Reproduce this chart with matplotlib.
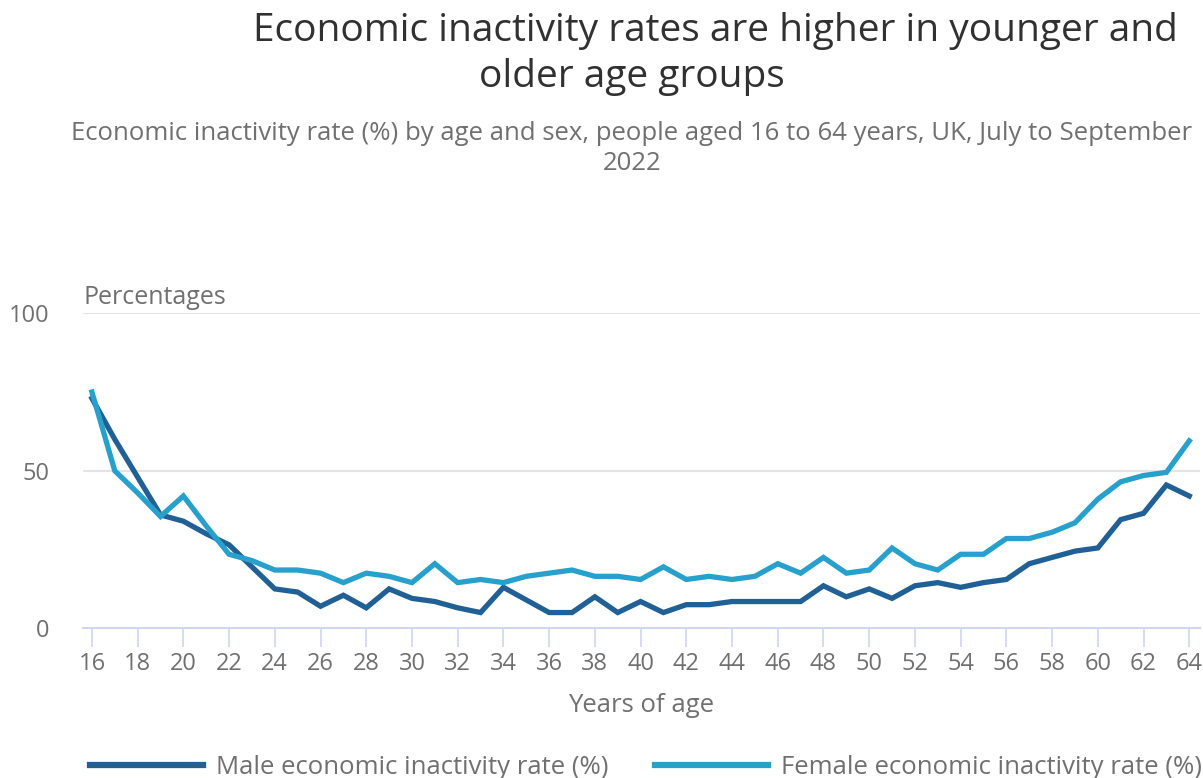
import matplotlib
matplotlib.use("Agg")
import matplotlib.pyplot as plt

plt.rcParams['font.family'] = ['Open Sans', 'DejaVu Sans']

# economic inactivity rate (%) by single year of age, July to September 2022
ages = list(range(16, 65))
male = [73, 60, 48, 36, 34, 30, 26.5, 19.5, 12.5, 11.5,
        7, 10.5, 6.5, 12.5, 9.5, 8.5, 6.5, 5, 13, 9,
        5, 5, 10, 5, 8.5, 5, 7.5, 7.5, 8.5, 8.5,
        8.5, 8.5, 13.5, 10, 12.5, 9.5, 13.5, 14.5, 13, 14.5,
        15.5, 20.5, 22.5, 24.5, 25.5, 34.5, 36.5, 45.5, 42]
female = [75, 50, 43, 35.5, 42, 32.5, 23.5, 21.5, 18.5, 18.5,
          17.5, 14.5, 17.5, 16.5, 14.5, 20.5, 14.5, 15.5, 14.5, 16.5,
          17.5, 18.5, 16.5, 16.5, 15.5, 19.5, 15.5, 16.5, 15.5, 16.5,
          20.5, 17.5, 22.5, 17.5, 18.5, 25.5, 20.5, 18.5, 23.5, 23.5,
          28.5, 28.5, 30.5, 33.5, 41, 46.5, 48.5, 49.5, 59.5]

x_ticks = list(range(16, 65, 2))
y_ticks = [0, 50, 100]

male_colour = '#206095'
female_colour = '#27a0cc'
text_grey = '#707070'

W, H = 1203, 778
fig = plt.figure(figsize=(W / 100, H / 100), dpi=100)
ax = fig.add_axes([83 / W, 1 - 628.3 / H, 1117 / W, 315 / H])

l1, = ax.plot(ages, male, color=male_colour, lw=3.8, solid_joinstyle='miter',
              label='Male economic inactivity rate (%)', clip_on=False, zorder=3)
l2, = ax.plot(ages, female, color=female_colour, lw=3.8, solid_joinstyle='miter',
              label='Female economic inactivity rate (%)', clip_on=False, zorder=4)

ax.set_xlim(15.61, 64.47)
ax.set_ylim(0, 100)
ax.set_xticks(x_ticks)
ax.set_yticks(y_ticks)
ax.tick_params(axis='x', length=14, width=1.2, color='#cfd7ee', pad=3,
               labelsize=17, labelcolor=text_grey)
ax.tick_params(axis='y', length=0, pad=24, labelsize=17, labelcolor=text_grey)

for s in ['top', 'right', 'left']:
    ax.spines[s].set_visible(False)
ax.spines['bottom'].set_color('#cfd7ee')
ax.spines['bottom'].set_linewidth(1.5)

for v in y_ticks[1:]:
    ax.axhline(v, color='#e4e4e4', lw=1.5, zorder=1)

ax.set_xlabel('Years of age', fontsize=18.5, color=text_grey, labelpad=12)
ax.text(0, 1.05, 'Percentages', transform=ax.transAxes, fontsize=18,
        color=text_grey, ha='left', va='center')

fig.text(715 / W, 1 - 31 / H, 'Economic inactivity rates are higher in younger and',
         ha='center', va='center', fontsize=28, color='#323132')
fig.text(632 / W, 1 - 77 / H, 'older age groups',
         ha='center', va='center', fontsize=28, color='#323132')
fig.text(632 / W, 1 - 133 / H,
         'Economic inactivity rate (%) by age and sex, people aged 16 to 64 years, UK, July to September',
         ha='center', va='center', fontsize=18.5, color=text_grey)
fig.text(632 / W, 1 - 163 / H, '2022', ha='center', va='center', fontsize=18.5, color=text_grey)

fig.legend(handles=[l1, l2], loc='center left', bbox_to_anchor=(90 / W, 1 - 767 / H),
           ncol=2, frameon=False, fontsize=18.5, handlelength=4.4, handletextpad=0.5,
           columnspacing=1.8, borderpad=0, borderaxespad=0, labelcolor=text_grey)
for line in fig.legends[0].get_lines():
    line.set_linewidth(4.5)

fig.savefig('out.png', dpi=100)
